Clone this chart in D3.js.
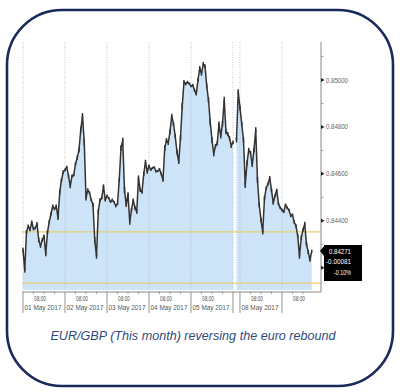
<!DOCTYPE html>
<html><head><meta charset="utf-8">
<script src="https://cdn.jsdelivr.net/npm/d3@7"></script>
<style>body{margin:0;background:#fff} svg{display:block}</style>
</head><body><svg id="c" width="400" height="392"></svg>
<script>
// ---- data (hours since 01 May 2017 00:00, hourly EUR/GBP prices) ----
const week1StartHour = 0;
const week1Prices = [
0.84276,0.84191,0.84352,0.84378,0.84361,0.84395,0.84365,0.84369,0.84387,0.84318,
0.84293,0.84318,0.84335,0.84259,0.84352,0.84395,0.84429,0.84463,0.84450,0.84463,
0.84412,0.84523,0.84574,0.84608,0.84617,0.84629,0.84591,0.84548,0.84591,0.84595,
0.84642,0.84668,0.84702,0.84787,0.84847,0.84736,0.84497,0.84531,0.84520,0.84489,
0.84468,0.84318,0.84250,0.84438,0.84489,0.84497,0.84548,0.84489,0.84506,0.84497,
0.84480,0.84489,0.84480,0.84463,0.84472,0.84574,0.84710,0.84744,0.84531,0.84468,
0.84514,0.84395,0.84446,0.84489,0.84455,0.84438,0.84583,0.84531,0.84523,0.84600,
0.84651,0.84608,0.84634,0.84617,0.84625,0.84629,0.84610,0.84612,0.84620,0.84600,
0.84574,0.84710,0.84744,0.84732,0.84779,0.84847,0.84813,0.84761,0.84693,0.84651,
0.84753,0.84889,0.84991,0.84983,0.84991,0.84985,0.84974,0.84978,0.84957,0.84940,
0.85000,0.85051,0.85026,0.85068,0.85060,0.84974,0.84915,0.84821,0.84744,0.84685,
0.84719,0.84730,0.84813,0.84761,0.84813,0.84915,0.84779,0.84770,0.84753,0.84719,
0.84735];
// hourly high-low range, in units of 0.00001
const week1Range = [
18,24,15,12,11,13,12,11,15,18, 17,15,13,21,18,15,12,13,11,12,
18,21,18,15,12,11,15,18,13,12, 15,18,21,27,24,30,21,15,12,13,
18,27,24,21,15,12,15,13,11,9,  9,11,9,12,11,18,24,21,27,18,
15,24,18,13,15,17,21,17,15,18, 18,15,12,9,9,7,9,9,9,11,
15,24,18,17,21,18,17,18,21,18, 24,27,18,12,11,9,9,11,12,13,
18,18,15,18,15,21,24,27,24,21, 18,18,21,21,24,27,21,18,15,17,
15];
const week2StartHour = 166; // Sun 07 May 22:00
const week2Prices = [
0.84744,0.84949,0.84881,0.84813,0.84744,0.84553,0.84646,0.84702,0.84690,0.84638,
0.84702,0.84787,0.84574,0.84468,0.84404,0.84352,0.84497,0.84540,0.84557,0.84583,
0.84531,0.84476,0.84506,0.84531,0.84472,0.84455,0.84446,0.84438,0.84468,0.84455,
0.84446,0.84421,0.84425,0.84395,0.84378,0.84335,0.84250,0.84327,0.84361,0.84387,
0.84301,0.84267,0.84233,0.84271];
const week2Range = [
21,24,21,18,21,27,21,18,15,18, 21,24,27,21,18,21,18,15,13,15,
18,15,13,12,11,11,12,11,12,11, 11,12,13,15,15,18,24,18,15,18,
18,17,15,12];
const referenceLevels = [0.84353, 0.84134];
const yMajorTicks = [0.842, 0.844, 0.846, 0.848, 0.850];
const yMinorTicks = [0.843, 0.845, 0.847, 0.849, 0.851];
const dayStartHours = [0, 24, 48, 72, 96, 120, 168, 192];
const timeLabelHours = [8, 32, 56, 80, 104, 176, 200];
const timeLabels = ["08:00","08:00","08:00","08:00","08:00","08:00","08:00"];
const dateLabelHours = [0, 24, 48, 72, 96, 168];
const dateLabels = ["01 May 2017","02 May 2017","03 May 2017","04 May 2017","05 May 2017","08 May 2017"];
const lastPrice = 0.84271;
const netChange = "-0.00081";
const pctChange = "-0.10%";
const caption = "EUR/GBP (This month) reversing the euro rebound";

// ---- layout ----
const svg = d3.select("#c");
const plotLeft = 23, plotRight = 321, plotTop = 42, plotBottom = 290, axisY = 292;
// weekend compression: Sat 00:00 .. Mon 00:00 shown as 4 hours
const trading = t => t >= 166 ? t - 44 : t;
const x = d3.scaleLinear().domain([0, 170.3]).range([plotLeft, plotRight]);
const y = d3.scaleLinear().domain([0.84105, 0.85162]).range([plotBottom, plotTop]);
const X = t => x(trading(t));

const segments = [
  week1Prices.map((p, i) => ({t: week1StartHour + i, p, r: week1Range[i] * 1e-5})),
  week2Prices.map((p, i) => ({t: week2StartHour + i, p, r: week2Range[i] * 1e-5}))
];
const allPts = segments.flat();

// border
svg.append("rect").attr("x", 7).attr("y", 10).attr("width", 386).attr("height", 376)
  .attr("rx", 55).attr("fill", "none").attr("stroke", "#1a2a5c").attr("stroke-width", 2.6);

// area
const area = d3.area().x(d => X(d.t)).y0(plotBottom).y1(d => y(d.p));
svg.selectAll("path.area").data(segments).join("path").attr("class", "area")
  .attr("d", area).attr("fill", "#cde4f8");

// dotted day gridlines
svg.selectAll("line.grid").data(dayStartHours).join("line").attr("class", "grid")
  .attr("x1", d => X(d)).attr("x2", d => X(d)).attr("y1", plotTop).attr("y2", plotBottom)
  .attr("stroke", "#b5b5b5").attr("stroke-width", 0.8).attr("stroke-dasharray", "1,1.5");

// reference lines
svg.selectAll("line.ref").data(referenceLevels).join("line").attr("class", "ref")
  .attr("x1", plotLeft - 1).attr("x2", plotRight).attr("y1", d => y(d)).attr("y2", d => y(d))
  .attr("stroke", "#e9cd72").attr("stroke-width", 1.3);

// price line + hourly ranges
const line = d3.line().x(d => X(d.t)).y(d => y(d.p));
svg.selectAll("line.rng").data(allPts).join("line").attr("class", "rng")
  .attr("x1", d => X(d.t)).attr("x2", d => X(d.t))
  .attr("y1", d => y(d.p + d.r / 2)).attr("y2", d => y(d.p - d.r / 2))
  .attr("stroke", "#333").attr("stroke-width", 1.5);
svg.selectAll("path.price").data(segments).join("path").attr("class", "price")
  .attr("d", line).attr("fill", "none").attr("stroke", "#333").attr("stroke-width", 1.5)
  .attr("stroke-linejoin", "round");

// x axis
const fontAxis = "'Liberation Sans', Arial, sans-serif";
svg.append("line").attr("x1", plotLeft - 1).attr("x2", plotRight).attr("y1", axisY).attr("y2", axisY)
  .attr("stroke", "#888").attr("stroke-width", 1);
svg.selectAll("line.sep").data(dayStartHours).join("line").attr("class", "sep")
  .attr("x1", d => X(d)).attr("x2", d => X(d)).attr("y1", axisY).attr("y2", 313)
  .attr("stroke", "#888").attr("stroke-width", 0.9);
const minorX = d3.range(0, 210, 6).filter(h => (h < 120 || h >= 168) && h % 24 !== 0);
svg.selectAll("line.mx").data(minorX).join("line").attr("class", "mx")
  .attr("x1", d => X(d)).attr("x2", d => X(d)).attr("y1", axisY).attr("y2", axisY + 2)
  .attr("stroke", "#888").attr("stroke-width", 0.8);
svg.selectAll("text.tl").data(timeLabelHours).join("text").attr("class", "tl")
  .attr("x", d => X(d) + 3).attr("y", 301).attr("text-anchor", "middle")
  .attr("font-family", fontAxis).attr("font-size", 7.5)
  .attr("textLength", 12).attr("lengthAdjust", "spacingAndGlyphs")
  .attr("fill", "#555").text((d, i) => timeLabels[i]);
svg.selectAll("text.dl").data(dateLabelHours).join("text").attr("class", "dl")
  .attr("x", d => X(d) + 1.5).attr("y", 310).attr("text-anchor", "start")
  .attr("font-family", fontAxis).attr("font-size", 7.5)
  .attr("textLength", 37).attr("lengthAdjust", "spacingAndGlyphs")
  .attr("fill", "#555").text((d, i) => dateLabels[i]);

// y axis
svg.append("line").attr("x1", plotRight).attr("x2", plotRight).attr("y1", plotTop).attr("y2", axisY)
  .attr("stroke", "#888").attr("stroke-width", 1);
svg.selectAll("line.ymin").data(yMinorTicks).join("line").attr("class", "ymin")
  .attr("x1", plotRight).attr("x2", plotRight + 2.5).attr("y1", d => y(d)).attr("y2", d => y(d))
  .attr("stroke", "#888").attr("stroke-width", 0.8);
svg.selectAll("path.ymaj").data(yMajorTicks).join("path").attr("class", "ymaj")
  .attr("d", d => `M${plotRight},${y(d) - 2}L${plotRight + 3.5},${y(d)}L${plotRight},${y(d) + 2}Z`)
  .attr("fill", "#222");
svg.selectAll("text.yl").data(yMajorTicks.filter(v => v > 0.843)).join("text").attr("class", "yl")
  .attr("x", plotRight + 5).attr("y", d => y(d) + 2.5)
  .attr("font-family", fontAxis).attr("font-size", 7.5)
  .attr("textLength", 22).attr("lengthAdjust", "spacingAndGlyphs")
  .attr("fill", "#666").text(d => d3.format(".5f")(d));

// last value box
const ly = y(lastPrice);
svg.append("path")
  .attr("d", `M${plotRight - 1},${ly} L${plotRight + 3},${ly - 5} L${plotRight + 3},${ly - 6} L362,${ly - 6} L362,${ly + 30} L${plotRight + 3},${ly + 30} L${plotRight + 3},${ly + 5} Z`)
  .attr("fill", "#000");
const boxLines = [d3.format(".5f")(lastPrice), netChange, pctChange];
const boxWidths = [22, 25, 17];
svg.selectAll("text.bx").data(boxLines).join("text").attr("class", "bx")
  .attr("x", 351).attr("y", (d, i) => ly + 2.5 + i * 10.5).attr("text-anchor", "end")
  .attr("font-family", fontAxis).attr("font-size", 7.5)
  .attr("textLength", (d, i) => boxWidths[i]).attr("lengthAdjust", "spacingAndGlyphs")
  .attr("fill", "#fff").text(d => d);

// caption
svg.append("text").attr("x", 193).attr("y", 340).attr("text-anchor", "middle")
  .attr("font-family", "'Liberation Sans', Arial, sans-serif").attr("font-style", "italic")
  .attr("font-size", 12.6).attr("fill", "#2e4a7c").text(caption);
</script></body></html>
